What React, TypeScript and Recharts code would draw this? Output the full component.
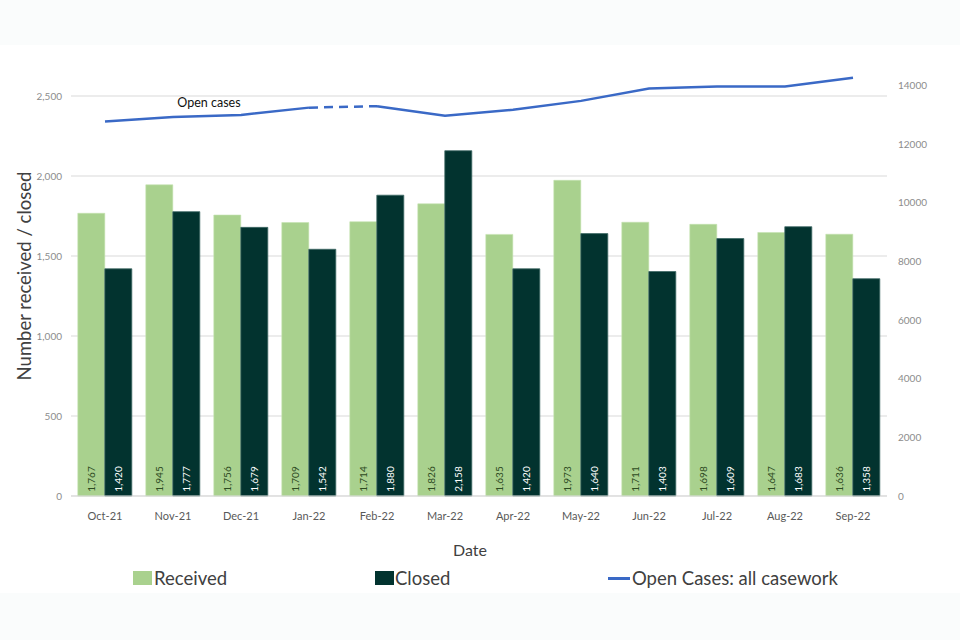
import React from 'react';
import { ComposedChart, Bar, Line, XAxis, YAxis, CartesianGrid, LabelList } from 'recharts';

const months = ['Oct-21', 'Nov-21', 'Dec-21', 'Jan-22', 'Feb-22', 'Mar-22', 'Apr-22', 'May-22', 'Jun-22', 'Jul-22', 'Aug-22', 'Sep-22'];
const received = [1767, 1945, 1756, 1709, 1714, 1826, 1635, 1973, 1711, 1698, 1647, 1636];
const closed = [1420, 1777, 1679, 1542, 1880, 2158, 1420, 1640, 1403, 1609, 1683, 1358];
const openCases = [12770, 12920, 12990, 13240, 13290, 12960, 13170, 13470, 13890, 13960, 13960, 14260];
const dashedFrom = 'Jan-22';
const dashedTo = 'Feb-22';
const leftTicks = [0, 500, 1000, 1500, 2000, 2500];
const rightTicks = [0, 2000, 4000, 6000, 8000, 10000, 12000, 14000];

const iFrom = months.indexOf(dashedFrom);
const iTo = months.indexOf(dashedTo);

const data = months.map((m, i) => ({
  month: m,
  received: received[i],
  closed: closed[i],
  openA: i <= iFrom ? openCases[i] : null,
  openB: i >= iTo ? openCases[i] : null,
  openDash: i === iFrom || i === iTo ? openCases[i] : null,
}));

const FONT = 'Lato, "Noto Sans", sans-serif';
const GREEN = '#A9D18E';
const DARK = '#02332F';
const BLUE = '#3A69C6';

const fmt = (v: number) => v.toLocaleString('en-GB');

const barLabel = (color: string) => (props: any) => {
  const { x, y, width, height, value } = props;
  const cx = Number(x) + Number(width) / 2;
  const cy = Number(y) + Number(height) - 17;
  return (
    <text
      x={cx}
      y={cy}
      transform={`rotate(-90 ${cx} ${cy})`}
      textAnchor="middle"
      dominantBaseline="central"
      fontSize={10}
      fontFamily={FONT}
      fill={color}
    >
      {fmt(Number(value))}
    </text>
  );
};

const openLabel = (props: any) => {
  const { x, y, index } = props;
  if (index !== 1) return null;
  return (
    <text x={Number(x) + 36} y={Number(y) - 10} textAnchor="middle" fontSize={12.5} fontFamily={FONT} fill="#111">
      Open cases
    </text>
  );
};

const yTitle = (props: any) => {
  const vb = props.viewBox || {};
  const cx = 24;
  const cy = vb.y + vb.height / 2;
  return (
    <text x={cx} y={cy} transform={`rotate(-90 ${cx} ${cy})`} textAnchor="middle" dominantBaseline="central" fontSize={18.5} fontFamily={FONT} fill="#404040">
      Number received / closed
    </text>
  );
};

const xTitle = () => (
  <text x={470} y={556} textAnchor="middle" fontSize={16} fontFamily={FONT} fill="#404040">
    Date
  </text>
);

export default function App() {
  return (
    <div style={{ position: 'absolute', left: 0, top: 0, width: 960, height: 640, background: '#fafcfc', fontFamily: FONT }}>
      <div style={{ position: 'absolute', left: 0, top: 45, width: 960, height: 548, background: '#ffffff' }} />
      <div style={{ position: 'absolute', left: 0, top: 0 }}>
        <ComposedChart width={960} height={640} data={data} margin={{ top: 56, right: 0, bottom: 0, left: 0 }} barCategoryGap="10%" barGap={0}>
          <CartesianGrid yAxisId="left" vertical={false} stroke="#d9d9d9" strokeWidth={1} syncWithTicks />
          <XAxis
            dataKey="month"
            height={144}
            tickLine={false}
            axisLine={{ stroke: '#d9d9d9' }}
            tick={{ fontSize: 11, fill: '#595959', fontFamily: FONT }}
            tickMargin={10}
            interval={0}
            label={xTitle}
          />
          <YAxis
            yAxisId="left"
            width={71}
            domain={[0, 2750]}
            ticks={leftTicks}
            tickFormatter={fmt}
            tickLine={false}
            axisLine={false}
            tickSize={0}
            tickMargin={9}
            tick={{ fontSize: 10, fill: '#8c8c8c', fontFamily: FONT }}
            label={yTitle}
          />
          <YAxis
            yAxisId="right"
            orientation="right"
            width={73}
            domain={[0, 15000]}
            ticks={rightTicks}
            tickLine={false}
            axisLine={false}
            tickSize={0}
            tickMargin={11}
            tick={{ fontSize: 10, fill: '#8c8c8c', fontFamily: FONT, textAnchor: 'start' }}
          />
          <Bar yAxisId="left" dataKey="received" fill={GREEN} stroke="#c4e2b0" strokeWidth={0.6} isAnimationActive={false}>
            <LabelList dataKey="received" content={barLabel('#2d4a22')} />
          </Bar>
          <Bar yAxisId="left" dataKey="closed" fill={DARK} stroke="#3f6a66" strokeWidth={0.8} isAnimationActive={false}>
            <LabelList dataKey="closed" content={barLabel('#ffffff')} />
          </Bar>
          <Line yAxisId="right" dataKey="openA" stroke={BLUE} strokeWidth={2.5} dot={false} activeDot={false} isAnimationActive={false} connectNulls={false}>
            <LabelList dataKey="openA" content={openLabel} />
          </Line>
          <Line yAxisId="right" dataKey="openDash" stroke={BLUE} strokeWidth={2.5} strokeDasharray="9 6" dot={false} activeDot={false} isAnimationActive={false} connectNulls={false} />
          <Line yAxisId="right" dataKey="openB" stroke={BLUE} strokeWidth={2.5} dot={false} activeDot={false} isAnimationActive={false} connectNulls={false} />
        </ComposedChart>
      </div>
      <div style={{ position: 'absolute', left: 0, top: 566, width: 960, height: 24, fontSize: 18.5, color: '#404040', fontFamily: FONT }}>
        <div style={{ position: 'absolute', left: 133, top: 5, width: 19, height: 14, background: GREEN }} />
        <div style={{ position: 'absolute', left: 154, top: 0, lineHeight: '24px' }}>Received</div>
        <div style={{ position: 'absolute', left: 375, top: 5, width: 19, height: 14, background: DARK }} />
        <div style={{ position: 'absolute', left: 395, top: 0, lineHeight: '24px' }}>Closed</div>
        <div style={{ position: 'absolute', left: 608, top: 11, width: 22, height: 2.5, background: BLUE }} />
        <div style={{ position: 'absolute', left: 632, top: 0, lineHeight: '24px' }}>Open Cases: all casework</div>
      </div>
    </div>
  );
}
